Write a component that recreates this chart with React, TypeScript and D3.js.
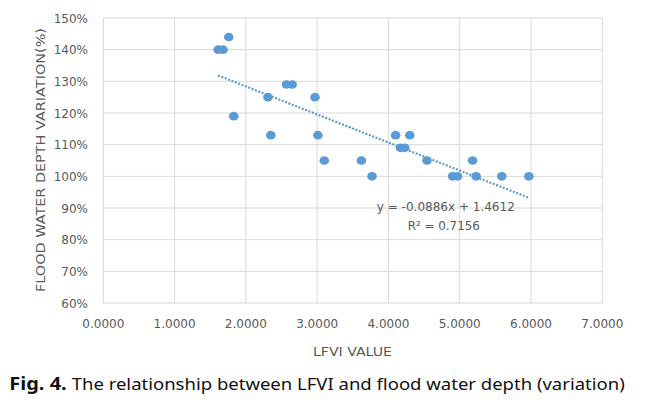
import React from "react";
import * as d3 from "d3";

// LFVI value (x) and flood water depth variation in % (y)
const lfvi = [1.61, 1.68, 1.76, 1.83, 2.31, 2.35, 2.57, 2.65, 2.97, 3.01, 3.10, 3.62, 3.77, 4.10, 4.17, 4.23, 4.30, 4.54, 4.90, 4.97, 5.18, 5.23, 5.59, 5.97];
const depthVar = [140, 140, 144, 119, 125, 113, 129, 129, 125, 113, 105, 105, 100, 113, 109, 109, 113, 105, 100, 100, 105, 100, 100, 100];

// Linear trendline (fraction units): y = slope * x + intercept
const trendSlope = -0.0886;
const trendIntercept = 1.4612;
const eqLabel = "y = -0.0886x + 1.4612";
const r2Label = "R² = 0.7156";

const xTickValues = [0, 1, 2, 3, 4, 5, 6, 7];
const yTickValues = [60, 70, 80, 90, 100, 110, 120, 130, 140, 150];

const xTitle = "LFVI VALUE";
const yTitle = "FLOOD WATER DEPTH VARIATION(%)";
const captionBold = "Fig. 4.";
const captionText = "The relationship between LFVI and flood water depth (variation)";

const W = 646;
const H = 402;
const left = 103.3, right = 602.3, top = 18, bottom = 303;
const gray = "#595959";
const grid = "#D9D9D9";
const blue = "#5B9BD5";
const font = "'DejaVu Sans', sans-serif";

export default function App() {
  const x = d3.scaleLinear().domain([0, 7]).range([left, right]);
  const y = d3.scaleLinear().domain([60, 150]).range([bottom, top]);
  const fmtX = d3.format(".4f");

  const xmin = d3.min(lfvi) as number;
  const xmax = d3.max(lfvi) as number;
  const trend = d3
    .line<number>()
    .x((d) => x(d))
    .y((d) => y((trendSlope * d + trendIntercept) * 100));

  return (
    <svg
      width={W}
      height={H}
      style={{ position: "absolute", left: 0, top: 0, background: "#fff" }}
    >
      <rect x={0} y={0} width={W} height={H} fill="#fff" />
      {/* grid */}
      {yTickValues.map((t) => (
        <line key={"gy" + t} x1={left} x2={right} y1={y(t)} y2={y(t)} stroke={grid} strokeWidth={1} />
      ))}
      {xTickValues.map((t) => (
        <line key={"gx" + t} x1={x(t)} x2={x(t)} y1={top} y2={bottom} stroke={grid} strokeWidth={1} />
      ))}
      {/* tick labels */}
      {yTickValues.map((t) => (
        <text key={"ly" + t} x={88} y={y(t) + 4.5} textAnchor="end" fontFamily={font} fontSize={12} fill={gray}>
          {t + "%"}
        </text>
      ))}
      {xTickValues.map((t) => (
        <text key={"lx" + t} x={x(t)} y={327.5} textAnchor="middle" fontFamily={font} fontSize={12} fill={gray}>
          {fmtX(t)}
        </text>
      ))}
      {/* axis titles */}
      <text x={352.5} y={356} textAnchor="middle" fontFamily={font} fontSize={12.5} fill={gray} textLength={79} lengthAdjust="spacingAndGlyphs">
        {xTitle}
      </text>
      <text
        transform={`translate(44.5,160) rotate(-90)`}
        textAnchor="middle"
        fontFamily={font}
        fontSize={12.5}
        fill={gray}
        textLength={264}
        lengthAdjust="spacingAndGlyphs"
      >
        {yTitle}
      </text>
      {/* trendline */}
      <path
        d={trend([xmin, xmax]) || ""}
        fill="none"
        stroke={blue}
        strokeWidth={2.2}
        strokeDasharray="2 1.6"
      />
      {/* points */}
      {lfvi.map((v, i) => (
        <ellipse key={"p" + i} cx={x(v)} cy={y(depthVar[i])} rx={4.8} ry={4.3} fill={blue} />
      ))}
      {/* equation */}
      <text x={445.8} y={210.5} textAnchor="middle" fontFamily={font} fontSize={12} fill={gray} textLength={138} lengthAdjust="spacingAndGlyphs">
        {eqLabel}
      </text>
      <text x={443.8} y={230} textAnchor="middle" fontFamily={font} fontSize={12} fill={gray} textLength={72} lengthAdjust="spacingAndGlyphs">
        {r2Label}
      </text>
      {/* caption */}
      <text x={9.3} y={389.5} fontFamily="'Noto Sans', sans-serif" fontWeight="bold" fontSize={17} fill="#111" textLength={57.4} lengthAdjust="spacingAndGlyphs">
        {captionBold}
      </text>
      <text x={71.7} y={389.5} fontFamily="'Noto Sans', sans-serif" fontSize={17} fill="#111" textLength={553} lengthAdjust="spacingAndGlyphs">
        {captionText}
      </text>
    </svg>
  );
}
